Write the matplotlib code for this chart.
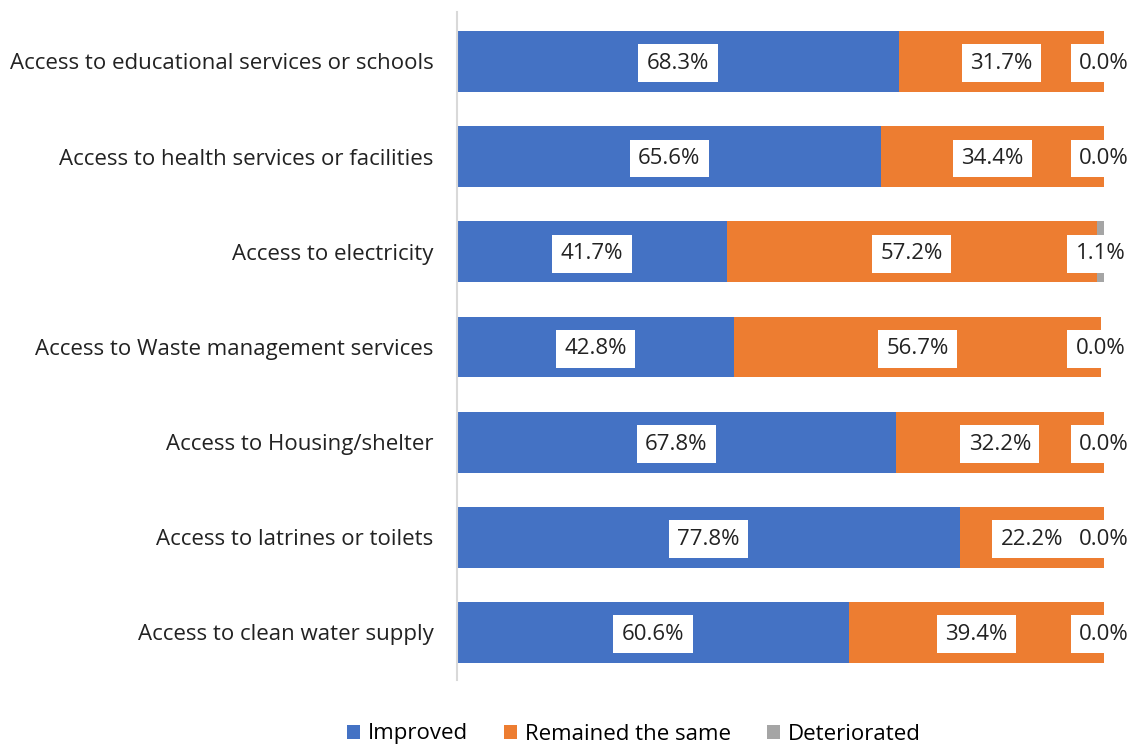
import matplotlib
matplotlib.use("Agg")
import matplotlib.pyplot as plt
import numpy as np

plt.rcParams['font.family'] = ['Open Sans', 'DejaVu Sans']

categories = [
    "Access to educational services or schools",
    "Access to health services or facilities",
    "Access to electricity",
    "Access to Waste management services",
    "Access to Housing/shelter",
    "Access to latrines or toilets",
    "Access to clean water supply",
]
improved = [68.3, 65.6, 41.7, 42.8, 67.8, 77.8, 60.6]
remained = [31.7, 34.4, 57.2, 56.7, 32.2, 22.2, 39.4]
deteriorated = [0.0, 0.0, 1.1, 0.0, 0.0, 0.0, 0.0]

series = [
    ("Improved", improved, "#4472C4"),
    ("Remained the same", remained, "#ED7D31"),
    ("Deteriorated", deteriorated, "#A5A5A5"),
]

fig = plt.figure(figsize=(11.36, 7.49), dpi=100)
ax = fig.add_axes([457 / 1136, 1 - 680 / 749, (1104 - 457) / 1136, (680 - 12) / 749])

y = np.arange(len(categories))
left = np.zeros(len(categories))
for name, vals, color in series:
    vals = np.array(vals)
    ax.barh(y, vals, left=left, height=0.64, color=color, label=name)
    for yi, l, v in zip(y, left, vals):
        ax.text(l + v / 2, yi + 0.02, f"{v:.1f}%", ha="center", va="center",
                fontsize=16, color="#222222",
                bbox=dict(boxstyle="square,pad=0.38", facecolor="white", edgecolor="none"))
    left += vals

ax.set_xlim(0, 100)
ax.set_ylim(6.5, -0.52)
ax.set_yticks(y)
ax.set_yticklabels(categories, fontsize=16, color="#222222")
ax.tick_params(axis="y", length=0, pad=17)
ax.set_xticks([])
for s in ["top", "right", "bottom"]:
    ax.spines[s].set_visible(False)
ax.spines["left"].set_color("#D9D9D9")
ax.spines["left"].set_linewidth(1.5)

fig.legend(loc="center", bbox_to_anchor=(0.558, 1 - 734 / 749), ncol=3, frameon=False,
           fontsize=16, handlelength=0.6, handleheight=0.6, columnspacing=1.6,
           handletextpad=0.35)

fig.savefig("out.png", dpi=100)
